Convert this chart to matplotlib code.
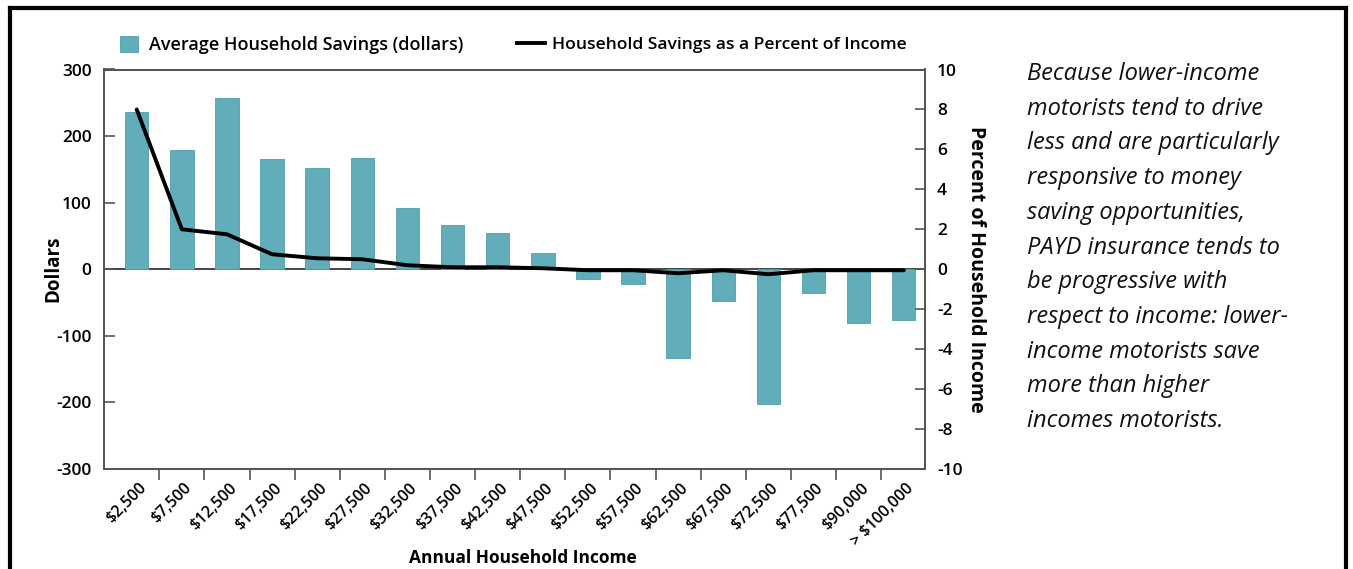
import matplotlib.pyplot as plt
import matplotlib.transforms as mtransforms
from matplotlib.lines import Line2D
from matplotlib.patches import Patch
import numpy as np

plt.rcParams['font.family'] = ['Open Sans', 'DejaVu Sans']
plt.rcParams['axes.unicode_minus'] = False

# data
income = ['$2,500', '$7,500', '$12,500', '$17,500', '$22,500', '$27,500',
          '$32,500', '$37,500', '$42,500', '$47,500', '$52,500', '$57,500',
          '$62,500', '$67,500', '$72,500', '$77,500', '$90,000', '> $100,000']
savings_dollars = [236, 179, 257, 165, 152, 167, 92, 66, 54, 24, -14, -22,
                   -133, -47, -203, -36, -80, -76]
savings_pct = [8.0, 2.0, 1.75, 0.75, 0.55, 0.5, 0.2, 0.1, 0.1, 0.05, -0.05, -0.05,
               -0.2, -0.05, -0.25, -0.05, -0.05, -0.05]

note_lines = ['Because lower-income', 'motorists tend to drive',
              'less and are particularly', 'responsive to money',
              'saving opportunities,', 'PAYD insurance tends to',
              'be progressive with', 'respect to income: lower-',
              'income motorists save', 'more than higher',
              'incomes motorists.']

bar_color = '#61adba'
spine_color = '#555555'
W, H = 1353, 569

fig = plt.figure(figsize=(W / 100, H / 100), dpi=100)
ax = fig.add_axes([104 / W, 1 - 469 / H, (924.5 - 104) / W, (469 - 69.5) / H])
x = np.arange(len(income))

ax.bar(x, savings_dollars, width=0.52, color=bar_color,
       edgecolor='#4f9eab', linewidth=0.6, zorder=2)
ax.axhline(0, color='#444444', lw=1.4, zorder=1)
ax.set_xlim(-0.725, 17.46)
ax.set_ylim(-300, 300)
ax.set_yticks([-300, -200, -100, 0, 100, 200, 300])
ax.tick_params(axis='y', direction='in', length=8, width=1.2, color=spine_color,
               labelsize=12.5, pad=9)
for lab in ax.get_yticklabels():
    lab.set_fontweight('semibold')

# ticks at category boundaries, labels at category centres
ax.set_xticks(x[:-1] + 0.5)
ax.set_xticklabels([])
ax.tick_params(axis='x', which='major', direction='out', length=8, width=1.2,
               color=spine_color)
ax.set_xticks(x, minor=True)
ax.set_xticklabels(income, minor=True, rotation=45, ha='right',
                   rotation_mode='anchor', fontsize=11.5, fontweight='semibold')
ax.tick_params(axis='x', which='minor', length=0, pad=8)
shift = mtransforms.ScaledTranslation(2 / 100, 0, fig.dpi_scale_trans)
for lab in ax.get_xticklabels(minor=True):
    lab.set_transform(lab.get_transform() + shift)

for s in ax.spines.values():
    s.set_color(spine_color)
    s.set_linewidth(1.4)

ax.set_ylabel('Dollars', fontsize=13.5, fontweight='bold')
ax.yaxis.set_label_coords(-0.049, 0.5)
ax.set_xlabel('Annual Household Income', fontsize=12.5, fontweight='bold')
ax.xaxis.set_label_coords(0.51, -0.2)

ax2 = ax.twinx()
ax2.plot(x, savings_pct, color='black', lw=2.8, solid_joinstyle='round',
         solid_capstyle='round', zorder=3)
ax2.set_ylim(-10, 10)
ax2.set_yticks(np.arange(-10, 11, 2))
ax2.tick_params(axis='y', direction='in', length=7, width=1.2, color=spine_color,
                labelsize=12.5, pad=9)
for lab in ax2.get_yticklabels():
    lab.set_fontweight('semibold')
for s in ax2.spines.values():
    s.set_color(spine_color)
    s.set_linewidth(1.4)
ax2.set_ylabel('Percent of Household Income', rotation=-90, fontsize=14,
               fontweight='bold', labelpad=17)

# legends above the plot
fig.legend([Patch(facecolor=bar_color, edgecolor='#4f9eab', lw=0.6)],
           ['Average Household Savings (dollars)'],
           loc='center left', bbox_to_anchor=(104 / W, 1 - 45 / H), frameon=False,
           handlelength=1.0, handleheight=1.0, handletextpad=0.6,
           prop={'size': 13, 'weight': 'semibold'})
fig.legend([Line2D([], [], color='black', lw=2.8)],
           ['Household Savings as a Percent of Income'],
           loc='center left', bbox_to_anchor=(501 / W, 1 - 45 / H), frameon=False,
           handlelength=1.6, handletextpad=0.4,
           prop={'size': 12.6, 'weight': 'semibold'})

# side note
for i, line in enumerate(note_lines):
    fig.text(1027 / W, 1 - (80 + 34.7 * i) / H, line, fontsize=17, style='italic',
             va='baseline', ha='left', color='#111111')

# page frame lines
for xs, ys in [([10, 10], [569, 8]), ([1346, 1346], [569, 8]), ([10, 1346], [8, 8])]:
    fig.add_artist(Line2D([v / W for v in xs], [1 - v / H for v in ys],
                          transform=fig.transFigure, color='black', lw=3,
                          solid_capstyle='projecting'))

fig.savefig('out.png', dpi=100)
